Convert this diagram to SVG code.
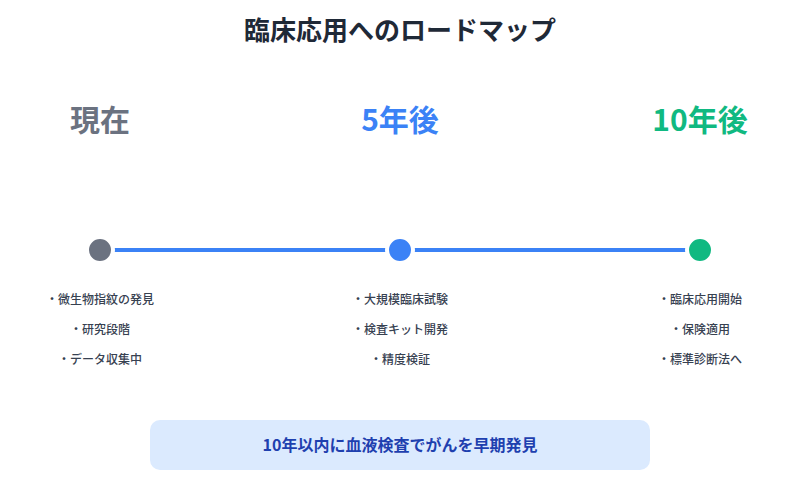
<svg xmlns="http://www.w3.org/2000/svg" width="800" height="500" viewBox="0 0 800 500">
<style>
text{font-family:"Noto Sans CJK JP","Noto Sans",sans-serif;text-anchor:middle}
.title{font-size:26px;font-weight:bold;fill:#1f2937}
.head{font-size:30px;font-weight:bold}
.item{font-size:12px;fill:#374151;font-weight:500}
.dot{stroke:#fff;stroke-width:4}
</style>
<rect width="800" height="500" fill="#fff"/>
<text class="title" x="400" y="40">臨床応用へのロードマップ</text>
<g id="connectors">
<line x1="100" y1="250" x2="700" y2="250" stroke="#3b82f6" stroke-width="4"/>
</g>
<g id="now">
<text class="head" x="100" y="131" fill="#6b7280">現在</text>
<circle class="dot" cx="100" cy="250" r="13" fill="#6b7280"/>
<text class="item" x="100" y="304">・微生物指紋の発見</text>
<text class="item" x="100" y="334">・研究段階</text>
<text class="item" x="100" y="364">・データ収集中</text>
</g>
<g id="y5">
<text class="head" x="400" y="131" fill="#3b82f6">5年後</text>
<circle class="dot" cx="400" cy="250" r="13" fill="#3b82f6"/>
<text class="item" x="400" y="304">・大規模臨床試験</text>
<text class="item" x="400" y="334">・検査キット開発</text>
<text class="item" x="400" y="364">・精度検証</text>
</g>
<g id="y10">
<text class="head" x="700" y="131" fill="#10b981">10年後</text>
<circle class="dot" cx="700" cy="250" r="13" fill="#10b981"/>
<text class="item" x="700" y="304">・臨床応用開始</text>
<text class="item" x="700" y="334">・保険適用</text>
<text class="item" x="700" y="364">・標準診断法へ</text>
</g>
<g id="summary">
<rect x="150" y="420" width="500" height="50" rx="10" fill="#dbeafe"/>
<text x="400" y="451" font-size="16" font-weight="bold" fill="#1e40af">10年以内に血液検査でがんを早期発見</text>
</g>
</svg>
